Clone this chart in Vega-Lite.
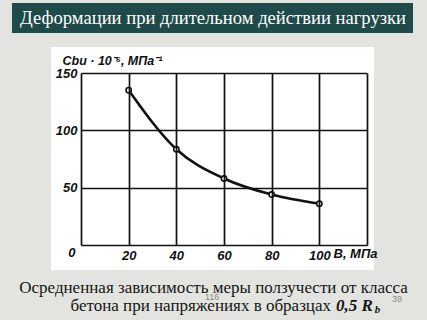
{
  "$schema": "https://vega.github.io/schema/vega-lite/v6.json",
  "width": 286,
  "height": 172,
  "autosize": {"type": "none"},
  "padding": {"left": 81, "top": 73, "right": 60, "bottom": 75},
  "background": "#e3e3df",
  "config": {"view": {"stroke": null}},
  "datasets": {
    "curve": [
      {"B": 20, "C": 135},
      {"B": 40, "C": 83.5},
      {"B": 60, "C": 58},
      {"B": 80, "C": 44},
      {"B": 100, "C": 36}
    ],
    "one": [{"k": 1}]
  },
  "layer": [
    {
      "data": {"name": "one"},
      "mark": {"type": "rect", "color": "#ffffff"},
      "encoding": {
        "x": {"datum": -12.6, "type": "quantitative", "scale": {"domain": [0, 120], "nice": false, "zero": false}},
        "x2": {"datum": 122.9},
        "y": {"datum": 172.7, "type": "quantitative", "scale": {"domain": [0, 150], "nice": false, "zero": false}},
        "y2": {"datum": -21.8}
      }
    },
    {
      "data": {"name": "one"},
      "mark": {"type": "rect", "color": "#1f4a4a"},
      "encoding": {
        "x": {"datum": -28.95, "type": "quantitative", "scale": {"domain": [0, 120], "nice": false, "zero": false}},
        "x2": {"datum": 139.3},
        "y": {"datum": 211.0, "type": "quantitative", "scale": {"domain": [0, 150], "nice": false, "zero": false}},
        "y2": {"datum": 184.9}
      }
    },
    {
      "data": {"name": "one"},
      "mark": {"type": "text", "color": "#ffffff", "font": "Liberation Serif", "fontSize": 18.6, "align": "center", "baseline": "middle"},
      "encoding": {
        "x": {"datum": 55.4, "type": "quantitative", "scale": {"domain": [0, 120], "nice": false, "zero": false}},
        "y": {"datum": 198.0, "type": "quantitative", "scale": {"domain": [0, 150], "nice": false, "zero": false}},
        "text": {"value": "Деформации при длительном действии нагрузки"}
      }
    },
    {
      "data": {"name": "curve"},
      "mark": {"type": "line", "color": "#111111", "strokeWidth": 2.6, "interpolate": "monotone"},
      "encoding": {
        "x": {
          "field": "B", "type": "quantitative",
          "scale": {"domain": [0, 120], "nice": false, "zero": false},
          "axis": {
            "values": [0, 20, 40, 60, 80, 100, 120],
            "grid": true, "gridColor": "#111111", "gridWidth": 1.7,
            "domain": false, "ticks": false,
            "labelExpr": "datum.value == 0 || datum.value == 120 ? '' : datum.label",
            "labelFont": "Liberation Sans", "labelFontSize": 13, "labelFontStyle": "italic", "labelFontWeight": "bold",
            "labelColor": "#111111", "labelPadding": 4, "labelFlush": false, "labelOverlap": false,
            "title": "В, МПа", "titleX": 252, "titleY": 8, "titleAlign": "left", "titleBaseline": "middle",
            "titleFont": "Liberation Sans", "titleFontSize": 13, "titleFontStyle": "italic", "titleFontWeight": "bold", "titleColor": "#111111",
            "zindex": 1
          }
        },
        "y": {
          "field": "C", "type": "quantitative",
          "scale": {"domain": [0, 150], "nice": false, "zero": false},
          "axis": {
            "values": [0, 50, 100, 150],
            "grid": true, "gridColor": "#111111", "gridWidth": 1.7,
            "domain": false, "ticks": false,
            "labelExpr": "datum.value == 0 ? '' : datum.label",
            "labelFont": "Liberation Sans", "labelFontSize": 13, "labelFontStyle": "italic", "labelFontWeight": "bold",
            "labelColor": "#111111", "labelPadding": 4, "labelFlush": false, "labelOverlap": false,
            "title": "Cbu · 10⁻⁶, МПа⁻¹", "titleAngle": 0, "titleX": -19, "titleY": -13, "titleAlign": "left", "titleBaseline": "middle",
            "titleFont": "Liberation Sans", "titleFontSize": 12.5, "titleFontStyle": "italic", "titleFontWeight": "bold", "titleColor": "#111111",
            "zindex": 1
          }
        }
      }
    },
    {
      "data": {"name": "curve"},
      "mark": {"type": "point", "shape": "circle", "filled": true, "fill": "#ffffff", "stroke": "#111111", "strokeWidth": 1.6, "size": 28, "opacity": 1},
      "encoding": {
        "x": {"field": "B", "type": "quantitative", "scale": {"domain": [0, 120], "nice": false, "zero": false}},
        "y": {"field": "C", "type": "quantitative", "scale": {"domain": [0, 150], "nice": false, "zero": false}}
      }
    },
    {
      "data": {"name": "one"},
      "mark": {"type": "text", "color": "#111111", "font": "Liberation Sans", "fontSize": 13, "fontStyle": "italic", "fontWeight": "bold", "align": "center", "baseline": "middle"},
      "encoding": {
        "x": {"datum": -3.8, "type": "quantitative", "scale": {"domain": [0, 120], "nice": false, "zero": false}},
        "y": {"datum": -7.0, "type": "quantitative", "scale": {"domain": [0, 150], "nice": false, "zero": false}},
        "text": {"value": "0"}
      }
    },
    {
      "data": {"name": "one"},
      "mark": {"type": "text", "color": "#151515", "font": "Liberation Serif", "fontSize": 17, "align": "center", "baseline": "middle"},
      "encoding": {
        "x": {"datum": 55.6, "type": "quantitative", "scale": {"domain": [0, 120], "nice": false, "zero": false}},
        "y": {"datum": -37.5, "type": "quantitative", "scale": {"domain": [0, 150], "nice": false, "zero": false}},
        "text": {"value": "Осредненная зависимость меры ползучести от класса"}
      }
    },
    {
      "data": {"name": "one"},
      "mark": {"type": "text", "color": "#151515", "font": "Liberation Serif", "fontSize": 17, "align": "right", "baseline": "middle"},
      "encoding": {
        "x": {"datum": 104.9, "type": "quantitative", "scale": {"domain": [0, 120], "nice": false, "zero": false}},
        "y": {"datum": -53.2, "type": "quantitative", "scale": {"domain": [0, 150], "nice": false, "zero": false}},
        "text": {"value": "бетона при напряжениях в образцах"}
      }
    },
    {
      "data": {"name": "one"},
      "mark": {"type": "text", "color": "#151515", "font": "Liberation Serif", "fontSize": 17, "fontStyle": "italic", "fontWeight": "bold", "align": "left", "baseline": "middle"},
      "encoding": {
        "x": {"datum": 107.0, "type": "quantitative", "scale": {"domain": [0, 120], "nice": false, "zero": false}},
        "y": {"datum": -53.2, "type": "quantitative", "scale": {"domain": [0, 150], "nice": false, "zero": false}},
        "text": {"value": "0,5 R"}
      }
    },
    {
      "data": {"name": "one"},
      "mark": {"type": "text", "color": "#151515", "font": "Liberation Serif", "fontSize": 11, "fontStyle": "italic", "fontWeight": "bold", "align": "left", "baseline": "middle"},
      "encoding": {
        "x": {"datum": 123.3, "type": "quantitative", "scale": {"domain": [0, 120], "nice": false, "zero": false}},
        "y": {"datum": -56.7, "type": "quantitative", "scale": {"domain": [0, 150], "nice": false, "zero": false}},
        "text": {"value": "b"}
      }
    },
    {
      "data": {"name": "one"},
      "mark": {"type": "text", "color": "#8a8a8a", "font": "Liberation Sans", "fontSize": 9, "align": "center", "baseline": "middle"},
      "encoding": {
        "x": {"datum": 55.0, "type": "quantitative", "scale": {"domain": [0, 120], "nice": false, "zero": false}},
        "y": {"datum": -45.3, "type": "quantitative", "scale": {"domain": [0, 150], "nice": false, "zero": false}},
        "text": {"value": "116"}
      }
    },
    {
      "data": {"name": "one"},
      "mark": {"type": "text", "color": "#8a8a8a", "font": "Liberation Sans", "fontSize": 9, "align": "center", "baseline": "middle"},
      "encoding": {
        "x": {"datum": 132.6, "type": "quantitative", "scale": {"domain": [0, 120], "nice": false, "zero": false}},
        "y": {"datum": -47.1, "type": "quantitative", "scale": {"domain": [0, 150], "nice": false, "zero": false}},
        "text": {"value": "39"}
      }
    }
  ]
}
